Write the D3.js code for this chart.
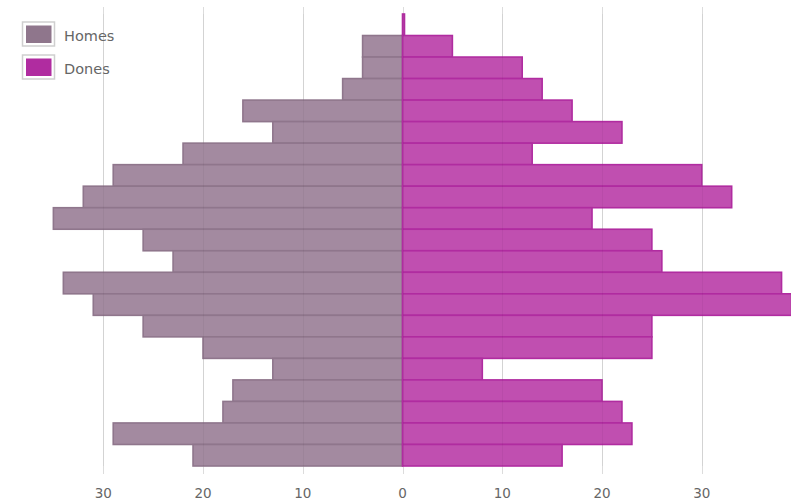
<!DOCTYPE html>
<html>
<head>
<meta charset="utf-8">
<script src="https://cdn.jsdelivr.net/npm/d3@7"></script>
<style>
    body { margin: 0; background: #fff; }
    text { font-family: "DejaVu Sans", Verdana, sans-serif; fill: #666; }
</style>
</head>
<body>
<script>
// rows from top to bottom
const rows = d3.range(21)
const homes = [0, 4, 4, 6, 16, 13, 22, 29, 32, 35, 26, 23, 34, 31, 26, 20, 13, 17, 18, 29, 21]
const dones = [0.2, 5, 12, 14, 17, 22, 13, 30, 33, 19, 25, 26, 38, 39, 25, 25, 8, 20, 22, 23, 16]
const tickValues = [-30, -20, -10, 0, 10, 20, 30]
const seriesNames = ['Homes', 'Dones']

const width = 791, height = 503

const colors = {
    Homes: { fill: '#a38aa0', stroke: '#8f768c' },
    Dones: { fill: '#c04fb0', stroke: '#b02ca0' }
}

const svg = d3.select("body").append("svg")
    .attr("width", width)
    .attr("height", height)

const x = d3.scaleLinear().domain([-40, 40]).range([3.5, 801.5])
const y = d3.scaleBand().domain(rows).range([14, 466]).padding(0)

//******* GRID */
const grid_g = svg.append("g").attr("class", "grid")
grid_g.selectAll("line")
    .data(tickValues)
    .enter().append("line")
    .attr("x1", d => Math.round(x(d)) + 0.5)
    .attr("x2", d => Math.round(x(d)) + 0.5)
    .attr("y1", 7)
    .attr("y2", 474)
    .attr("stroke", "#dcdcdc")
    .attr("stroke-width", 1)

//******* BARS */
const bars_g = svg.append("g").attr("class", "bars_g")

bars_g.selectAll("rect.homes")
    .data(rows.filter(i => homes[i] > 0))
    .enter().append("rect")
    .attr("class", "homes")
    .attr("x", i => x(-homes[i]))
    .attr("y", i => y(i))
    .attr("width", i => x(0) - x(-homes[i]))
    .attr("height", y.bandwidth())
    .attr("fill", colors.Homes.fill)
    .attr("stroke", colors.Homes.stroke)
    .attr("stroke-width", 1.6)

bars_g.selectAll("rect.dones")
    .data(rows.filter(i => dones[i] > 0))
    .enter().append("rect")
    .attr("class", "dones")
    .attr("x", x(0))
    .attr("y", i => y(i))
    .attr("width", i => x(dones[i]) - x(0))
    .attr("height", y.bandwidth())
    .attr("fill", colors.Dones.fill)
    .attr("stroke", colors.Dones.stroke)
    .attr("stroke-width", 1.6)

// faint grid showing through the bars
svg.append("g").attr("class", "grid_over")
    .selectAll("line")
    .data(tickValues)
    .enter().append("line")
    .attr("x1", d => Math.round(x(d)) + 0.5)
    .attr("x2", d => Math.round(x(d)) + 0.5)
    .attr("y1", 14)
    .attr("y2", 466)
    .attr("stroke", "#000")
    .attr("stroke-opacity", 0.04)

//******** AXIS */
const axis_g = svg.append("g").attr("class", "axis")
axis_g.selectAll("text")
    .data(tickValues)
    .enter().append("text")
    .attr("x", d => x(d))
    .attr("y", 498)
    .attr("text-anchor", "middle")
    .style("font-size", "13.5px")
    .text(d => Math.abs(d))

//** legend */
const legend_g = svg.append("g").attr("class", "legend")
const item = legend_g.selectAll("g")
    .data(seriesNames)
    .enter().append("g")
    .attr("transform", (d, i) => "translate(22," + (21.5 + i * 33) + ")")

item.append("rect")
    .attr("x", 0.5).attr("y", 0.5)
    .attr("width", 32).attr("height", 24)
    .attr("fill", "#fff")
    .attr("stroke", "#cfcfcf")
    .attr("stroke-width", 1.5)
item.append("rect")
    .attr("x", 4).attr("y", 4)
    .attr("width", 25.5).attr("height", 17.5)
    .attr("fill", d => colors[d].stroke)

item.append("text")
    .attr("x", 42)
    .attr("y", 19)
    .style("font-size", "14.5px")
    .text(d => d)
</script>
</body>
</html>
